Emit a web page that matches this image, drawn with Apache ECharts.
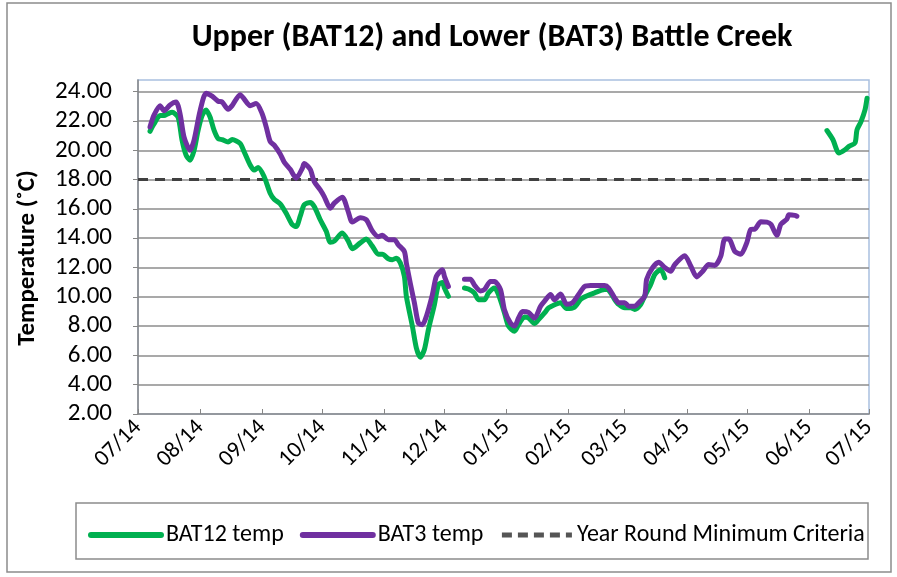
<!DOCTYPE html>
<html>
<head>
<meta charset="utf-8">
<script src="https://cdn.jsdelivr.net/npm/echarts@6/dist/echarts.min.js"></script>
<style>
html,body{margin:0;padding:0;background:#fff;}
#chart{width:897px;height:577px;}
</style>
</head>
<body>
<div id="chart"></div>
<script>
// ---- data ----
var xTickLabels = ['07/14','08/14','09/14','10/14','11/14','12/14','01/15','02/15','03/15','04/15','05/15','06/15','07/15'];
var yTickValues = [2,4,6,8,10,12,14,16,18,20,22,24];

var bat12Dates = ['2014-07-07','2014-07-09','2014-07-12','2014-07-14','2014-07-16','2014-07-18','2014-07-21','2014-07-23','2014-07-25','2014-07-27','2014-07-29','2014-07-31',
'2014-08-02','2014-08-04','2014-08-06','2014-08-08','2014-08-10','2014-08-12','2014-08-15','2014-08-17','2014-08-21','2014-08-23','2014-08-26','2014-08-28','2014-08-30',
'2014-09-02','2014-09-05','2014-09-07','2014-09-10','2014-09-13','2014-09-16','2014-09-18','2014-09-20','2014-09-22','2014-09-25','2014-09-27','2014-09-30',
'2014-10-03','2014-10-05','2014-10-07','2014-10-11','2014-10-14','2014-10-16','2014-10-20','2014-10-23','2014-10-26','2014-10-29','2014-10-31',
'2014-11-03','2014-11-05','2014-11-07','2014-11-09','2014-11-11','2014-11-12','2014-11-15','2014-11-17','2014-11-19','2014-11-21','2014-11-23','2014-11-26','2014-11-28','2014-11-30',
'2014-12-01','2014-12-03','2014-12-07','2014-12-11','2014-12-13','2014-12-16','2014-12-18','2014-12-21','2014-12-23','2014-12-26','2014-12-28','2014-12-31',
'2015-01-02','2015-01-05','2015-01-07','2015-01-10','2015-01-12','2015-01-15','2015-01-17','2015-01-20','2015-01-22','2015-01-25','2015-01-28','2015-01-31',
'2015-02-04','2015-02-07','2015-02-10','2015-02-14','2015-02-19','2015-02-21','2015-02-24','2015-02-26',
'2015-03-01','2015-03-04','2015-03-06','2015-03-09','2015-03-11','2015-03-14','2015-03-16','2015-03-19','2015-03-21','2015-04-20',
'2015-06-10','2015-06-13','2015-06-16','2015-06-19','2015-06-21','2015-06-24','2015-06-25','2015-06-27','2015-06-29','2015-06-30'];
var bat12Temps = [21.3,21.8,22.37,22.37,22.5,22.6,22.26,20.68,19.67,19.33,20.0,21.36,
22.37,22.76,22.26,21.36,20.8,20.73,20.57,20.73,20.46,19.9,19.0,18.65,18.83,
18.2,17.07,16.66,16.35,15.7,14.93,14.8,15.5,16.28,16.44,16.17,15.26,
14.47,13.73,13.8,14.36,13.8,13.28,13.68,13.95,13.46,12.9,12.9,
12.6,12.53,12.64,12.3,11.4,10.03,8.0,6.5,5.88,6.4,7.76,9.46,10.83,10.98,
10.6,10.03,null,10.6,10.53,10.26,9.8,9.8,10.26,10.6,10.15,8.9,
8.0,7.65,8.1,8.63,8.56,8.17,8.44,8.9,9.24,9.46,9.6,9.2,
9.3,9.82,10.05,10.27,10.5,10.45,9.82,9.48,
9.25,9.25,9.14,9.48,10.05,10.84,11.52,11.86,11.3,null,
21.35,20.72,19.81,20.04,20.27,20.5,21.4,21.96,22.76,23.55];

var bat3Dates = ['2014-07-07','2014-07-09','2014-07-12','2014-07-14','2014-07-17','2014-07-20','2014-07-22','2014-07-24','2014-07-27','2014-07-29',
'2014-08-01','2014-08-04','2014-08-07','2014-08-10','2014-08-12','2014-08-15','2014-08-17','2014-08-21','2014-08-23','2014-08-26','2014-08-29',
'2014-09-01','2014-09-03','2014-09-05','2014-09-07','2014-09-10','2014-09-12','2014-09-15','2014-09-18','2014-09-21','2014-09-22','2014-09-25','2014-09-27','2014-09-30',
'2014-10-02','2014-10-05','2014-10-07','2014-10-11','2014-10-14','2014-10-16','2014-10-20','2014-10-23','2014-10-26','2014-10-29','2014-10-31',
'2014-11-03','2014-11-06','2014-11-08','2014-11-11','2014-11-12','2014-11-14','2014-11-16','2014-11-18','2014-11-20','2014-11-22','2014-11-25','2014-11-27','2014-11-30',
'2014-12-01','2014-12-03','2014-12-07','2014-12-11','2014-12-14','2014-12-16','2014-12-19','2014-12-21','2014-12-24','2014-12-26','2014-12-29','2014-12-31',
'2015-01-03','2015-01-05','2015-01-07','2015-01-09','2015-01-12','2015-01-15','2015-01-18','2015-01-20','2015-01-23','2015-01-25','2015-01-28','2015-01-31',
'2015-02-03','2015-02-06','2015-02-09','2015-02-12','2015-02-19','2015-02-21','2015-02-24','2015-02-26',
'2015-03-01','2015-03-03','2015-03-06','2015-03-08','2015-03-11','2015-03-12','2015-03-15','2015-03-18','2015-03-21','2015-03-24','2015-03-26','2015-03-31',
'2015-04-03','2015-04-06','2015-04-09','2015-04-12','2015-04-15','2015-04-18','2015-04-20','2015-04-22','2015-04-25','2015-04-28',
'2015-05-01','2015-05-03','2015-05-05','2015-05-08','2015-05-11','2015-05-13','2015-05-16','2015-05-18','2015-05-21','2015-05-22','2015-05-25','2015-05-26'];
var bat3Temps = [21.6,22.4,23.05,22.7,23.1,23.3,22.5,20.9,20.0,20.7,
22.7,23.9,23.7,23.35,23.3,22.8,23.05,23.8,23.5,23.05,23.2,
22.5,21.6,20.6,20.35,19.75,19.2,18.7,18.1,18.76,19.1,18.7,17.86,17.3,
16.84,16.05,16.4,16.8,15.8,15.1,15.4,15.26,14.5,14.1,14.2,
13.9,13.9,13.55,13.1,12.3,10.9,9.6,8.2,8.1,8.67,10.15,11.4,11.85,
11.4,10.7,null,11.2,11.2,10.8,10.4,10.5,11.05,11.05,10.5,9.1,
8.2,8.0,8.55,9.0,8.94,8.55,9.35,9.7,10.15,9.8,10.2,9.5,
9.6,10.15,10.7,10.77,10.77,10.6,9.93,9.6,
9.6,9.36,9.36,9.6,10.05,11.2,12.0,12.36,12.0,11.75,12.2,12.8,
12.1,11.36,11.75,12.2,12.14,12.77,13.95,13.95,13.1,12.9,
13.7,14.6,14.62,15.12,15.1,14.95,14.2,14.95,15.3,15.6,15.56,15.5];

var criteriaDates = ['2014-07-01','2015-07-01'];
var criteriaTemps = [18,18];

// ---- build ----
function ts(s){ var p = s.split('-'); return Date.UTC(+p[0], +p[1] - 1, +p[2]); }
function pairs(d, v){ return d.map(function(x,i){ return [ts(x), v[i]]; }); }
var monthTicks = xTickLabels.map(function(s){
  var p = s.split('/'); return Date.UTC(2000 + parseInt(p[1],10), parseInt(p[0],10) - 1, 1);
});
function fmtMonth(val){
  var i = monthTicks.indexOf(val);
  return i >= 0 ? xTickLabels[i] : '';
}
var FONT = 'Carlito, Lato, "Open Sans", sans-serif';

var chart = echarts.init(document.getElementById('chart'), null, {renderer:'canvas'});
chart.setOption({
  animation: false,
  backgroundColor: '#ffffff',
  title: {
    text: 'Upper (BAT12) and Lower (BAT3) Battle Creek',
    left: 487, top: 17, textAlign: 'center',
    textStyle: {fontFamily: FONT, fontSize: 32, fontWeight: 'bold', color: '#000'}
  },
  grid: {left: 138, right: 28, top: 80, bottom: 163, show: true, borderColor: '#a9c0e0', borderWidth: 1.5, backgroundColor: 'transparent'},
  legend: {
    left: 83, top: 518, itemWidth: 70, itemHeight: 10, itemGap: 16,
    itemStyle: {opacity: 0},
    lineStyle: {width: 6},
    textStyle: {fontFamily: FONT, fontSize: 24, color: '#000'},
    data: ['BAT12 temp', 'BAT3 temp',
      {name: 'Year Round Minimum Criteria', lineStyle: {width: 5, type: [10, 6], color: '#555555'}}]
  },
  xAxis: {
    type: 'value',
    min: monthTicks[0], max: monthTicks[monthTicks.length - 1],
    axisLine: {show: true, lineStyle: {color: '#868686', width: 1.5}},
    axisTick: {show: true, inside: true, length: 5, customValues: monthTicks, lineStyle: {color: '#868686', width: 1}},
    axisLabel: {customValues: monthTicks, rotate: 45, margin: 10, formatter: fmtMonth, fontFamily: FONT, fontSize: 23, color: '#000'},
    splitLine: {show: false}
  },
  yAxis: {
    type: 'value', min: 2, max: 24.8, interval: 2,
    name: 'Temperature (˚C)', nameLocation: 'middle', nameGap: 98,
    nameTextStyle: {fontFamily: FONT, fontSize: 25, fontWeight: 'bold', color: '#000', padding: [0, 22, 0, 0]},
    axisLine: {show: true, lineStyle: {color: '#868686', width: 1.5}},
    axisTick: {show: true, inside: false, length: 5, lineStyle: {color: '#868686'}},
    axisLabel: {showMaxLabel: false, margin: 26, fontFamily: FONT, fontSize: 25, color: '#000',
      formatter: function(v){ return yTickValues.indexOf(v) >= 0 ? v.toFixed(2) : ''; }},
    splitLine: {show: true, showMaxLine: false, showMinLine: false, lineStyle: {color: '#8c8c8c', width: 1.5}}
  },
  series: [
    {name: 'BAT12 temp', type: 'line', data: pairs(bat12Dates, bat12Temps), symbol: 'none', smooth: 0.25, connectNulls: false,
     itemStyle: {color: '#00b050'}, lineStyle: {color: '#00b050', width: 5, cap: 'round', join: 'round'}, z: 3},
    {name: 'BAT3 temp', type: 'line', data: pairs(bat3Dates, bat3Temps), symbol: 'none', smooth: 0.25, connectNulls: false,
     itemStyle: {color: '#7030a0'}, lineStyle: {color: '#7030a0', width: 5, cap: 'round', join: 'round'}, z: 4},
    {name: 'Year Round Minimum Criteria', type: 'line', data: pairs(criteriaDates, criteriaTemps), symbol: 'none',
     itemStyle: {color: '#404040'}, lineStyle: {color: '#404040', width: 3, type: [10, 7]}, z: 2}
  ],
  graphic: [
    {type: 'rect', shape: {x: 7, y: 3, width: 884, height: 569}, style: {fill: 'none', stroke: '#8c8c8c', lineWidth: 1.5}, silent: true, z: -1},
    {type: 'rect', shape: {x: 76, y: 503, width: 792, height: 56}, style: {fill: 'none', stroke: '#8c8c8c', lineWidth: 1.5}, silent: true, z: -1}
  ]
});
</script>
</body>
</html>
